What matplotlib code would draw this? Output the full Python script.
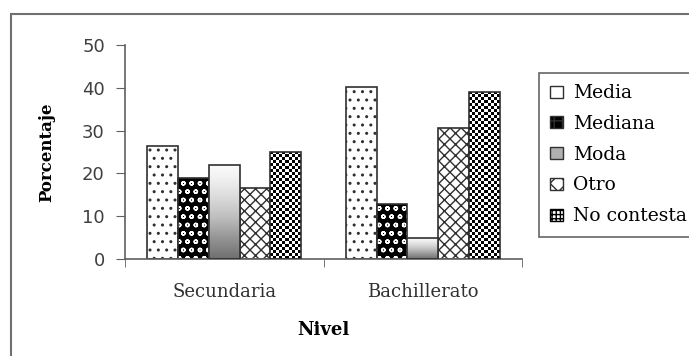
import numpy as np
import matplotlib.pyplot as plt
from matplotlib.patches import Rectangle, Patch

niveles = ["Secundaria", "Bachillerato"]
series = ["Media", "Mediana", "Moda", "Otro", "No contesta"]
media = [26.5, 40.3]
mediana = [19.0, 12.8]
moda = [22.0, 5.0]
otro = [16.7, 30.5]
no_contesta = [25.0, 39.0]
valores = [media, mediana, moda, otro, no_contesta]

serif = "DejaVu Serif"
fig = plt.figure(figsize=(6.89, 3.56), dpi=100)
ax = fig.add_axes([125/689, 1-259/356, 397/689, 214/356])

x = np.arange(len(niveles))
w = 0.155
ec = "#303030"

for i, vals in enumerate(valores):
    pos = x + (i - 2) * w
    if i == 0:
        ax.bar(pos, vals, w, facecolor="white", edgecolor=ec, hatch="..", lw=1.2)
    elif i == 1:
        ax.bar(pos, vals, w, facecolor="black", edgecolor="white", hatch="oo", lw=0)
        ax.bar(pos, vals, w, fill=False, edgecolor=ec, lw=1.2)
    elif i == 2:
        b = ax.bar(pos, vals, w, facecolor="none", edgecolor=ec, lw=1.2, zorder=3)
        for r in b:
            grad = np.linspace(0, 1, 100).reshape(-1, 1)
            im = ax.imshow(grad, cmap="Greys", vmin=-0.05, vmax=1.6, aspect="auto",
                           extent=[r.get_x(), r.get_x()+r.get_width(), 0, r.get_height()],
                           origin="upper", zorder=2)
            im.set_clip_path(r)
    elif i == 3:
        ax.bar(pos, vals, w, facecolor="white", edgecolor=ec, hatch="xxx", lw=1.2)
    else:
        b = ax.bar(pos, vals, w, facecolor="none", edgecolor=ec, lw=1.2, zorder=3)
        for r in b:
            nx = 10
            ny = int(r.get_height() * 4.28 / 3) + 1
            chk = (np.add.outer(np.arange(ny), np.arange(nx)) % 2).astype(float)
            im = ax.imshow(chk, cmap="Greys", vmin=0, vmax=1, aspect="auto",
                           interpolation="nearest",
                           extent=[r.get_x(), r.get_x()+r.get_width(), 0, ny * 3 / 4.28],
                           origin="lower", zorder=2)
            im.set_clip_path(r)

ax.set_xlim(-0.5, 1.5)
ax.set_ylim(0, 50)
ax.set_yticks([0, 10, 20, 30, 40, 50])
ax.set_xticks(x)
ax.set_xticklabels(niveles, fontfamily=serif, fontsize=13, color="#303030")
ax.set_xticks([-0.5, 0.5, 1.5], minor=True)
ax.tick_params(axis="x", which="major", length=0, pad=17)
ax.tick_params(axis="x", which="minor", length=6, direction="out", color="#606060")
ax.tick_params(axis="y", length=6.5, direction="out", color="#606060", labelsize=13,
               labelcolor="#404040", pad=8)
for s in ["top", "right"]:
    ax.spines[s].set_visible(False)
for s in ["left", "bottom"]:
    ax.spines[s].set_color("#606060")
    ax.spines[s].set_linewidth(1.2)

ax.set_ylabel("Porcentaje", fontfamily=serif, fontweight="bold", fontsize=12, labelpad=19)
ax.set_xlabel("Nivel", fontfamily=serif, fontweight="bold", fontsize=13, labelpad=15)

handles = [
    Patch(facecolor="white", edgecolor=ec, hatch="."),
    Patch(facecolor="black", edgecolor=ec, hatch="++"),
    Patch(facecolor="#b0b0b0", edgecolor=ec),
    Patch(facecolor="white", edgecolor=ec, hatch="xx"),
    Patch(facecolor="white", edgecolor="black", hatch="++++"),
]
leg = fig.legend(handles, series, loc="upper left", bbox_to_anchor=(539/689, 1-73/356),
                 prop={"family": serif, "size": 13.5}, frameon=True, fancybox=False,
                 edgecolor="#404040", handlelength=0.7, handleheight=0.6,
                 handletextpad=0.5, labelspacing=0.68, borderaxespad=0, borderpad=0.6)
leg.get_frame().set_linewidth(1.2)

fig.patches.append(Rectangle((11/689, -0.1), 1.2, 1.1 - 14/356,
                             transform=fig.transFigure, fill=False,
                             edgecolor="#707070", lw=1.5))

fig.savefig("out.png", dpi=100)
